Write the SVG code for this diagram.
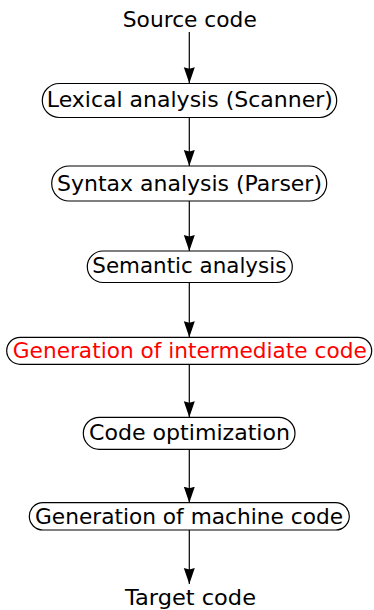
<svg xmlns="http://www.w3.org/2000/svg" width="374" height="610" viewBox="0 0 374 610">
<style>
text{font-family:"DejaVu Sans",sans-serif;font-size:22px;text-anchor:middle;fill:#000}
.box{fill:#fff;stroke:#000;stroke-width:1.2}
.red{fill:#ff0000}
.edge{stroke:#000;stroke-width:1.2;fill:none;marker-end:url(#arr)}
</style>
<defs>
<marker id="arr" markerUnits="userSpaceOnUse" markerWidth="16" markerHeight="12" refX="16" refY="5.5" orient="auto">
<path d="M0,0 L16,5.5 L0,11 L1.5,5.5 z" fill="#000"/>
</marker>
</defs>
<g id="connectors">
<line class="edge" x1="189.3" y1="32" x2="189.3" y2="83.3"/>
<line class="edge" x1="189.3" y1="117.7" x2="189.3" y2="166"/>
<line class="edge" x1="189.3" y1="201" x2="189.3" y2="251"/>
<line class="edge" x1="189.3" y1="282.5" x2="189.3" y2="337.3"/>
<line class="edge" x1="189.3" y1="364.3" x2="189.3" y2="417.3"/>
<line class="edge" x1="189.3" y1="449.3" x2="189.3" y2="502.7"/>
<line class="edge" x1="189.3" y1="530" x2="189.3" y2="584"/>
</g>
<g id="source">
<text x="189.8" y="26.7" textLength="134" lengthAdjust="spacingAndGlyphs">Source code</text>
</g>
<g id="lexical">
<rect class="box" x="42.3" y="83.5" width="294.4" height="34" rx="17" ry="17"/>
<text x="189.8" y="107.3" textLength="286" lengthAdjust="spacingAndGlyphs">Lexical analysis (Scanner)</text>
</g>
<g id="syntax">
<rect class="box" x="51.7" y="166" width="275" height="35" rx="17.5" ry="17.5"/>
<text x="189.5" y="190.5" textLength="265" lengthAdjust="spacingAndGlyphs">Syntax analysis (Parser)</text>
</g>
<g id="semantic">
<rect class="box" x="87.3" y="251" width="205" height="31.5" rx="15.75" ry="15.75"/>
<text x="189.3" y="273.4" textLength="194" lengthAdjust="spacingAndGlyphs">Semantic analysis</text>
</g>
<g id="intermediate">
<rect class="box" x="6.7" y="337.3" width="365" height="27" rx="13.5" ry="13.5"/>
<text class="red" x="189.8" y="358.3" textLength="354" lengthAdjust="spacingAndGlyphs">Generation of intermediate code</text>
</g>
<g id="optimization">
<rect class="box" x="83.3" y="417.3" width="211.7" height="32" rx="16" ry="16"/>
<text x="189.5" y="440" textLength="201" lengthAdjust="spacingAndGlyphs">Code optimization</text>
</g>
<g id="machine">
<rect class="box" x="29.3" y="502.7" width="320" height="27.3" rx="13.65" ry="13.65"/>
<text x="189" y="524.3" textLength="308" lengthAdjust="spacingAndGlyphs">Generation of machine code</text>
</g>
<g id="target">
<text x="190.5" y="605" textLength="131" lengthAdjust="spacingAndGlyphs">Target code</text>
</g>
</svg>
